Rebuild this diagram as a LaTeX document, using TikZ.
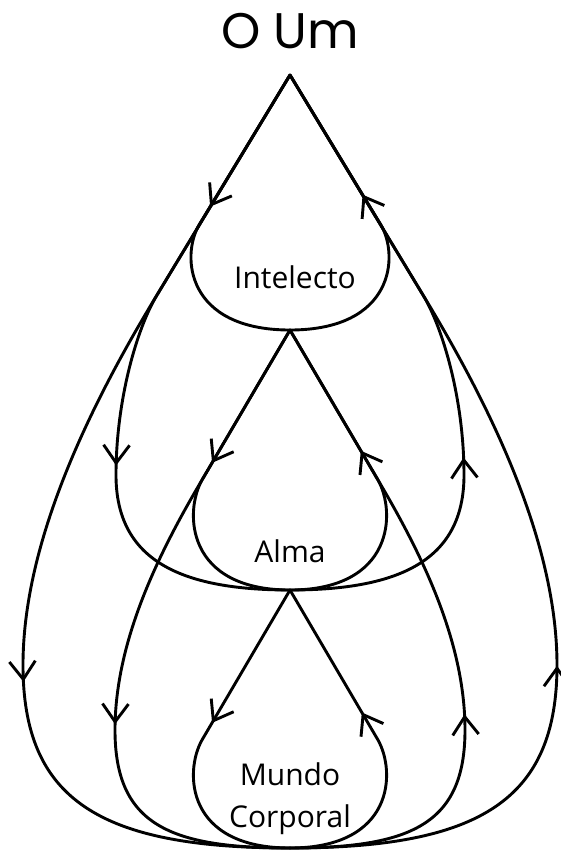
\documentclass[tikz,border=0pt]{standalone}
\usepackage{fontspec}
\setmainfont{Open Sans}
\newfontfamily\titlefont{Poppins}
\usetikzlibrary{arrows.meta,decorations.markings}

\tikzset{
  flow/.style={line width=1.45pt, line cap=round, line join=round},
  down at/.style={postaction={decorate, decoration={markings,
      mark=at position #1 with {\arrow{Straight Barb[length=9pt,width=13pt]}}}}},
  up at/.style={postaction={decorate, decoration={markings,
      mark=at position #1 with {\arrowreversed{Straight Barb[length=9pt,width=13pt]}}}}},
  label/.style={font=\fontsize{15}{18}\selectfont, anchor=base},
}

\begin{document}
\begin{tikzpicture}[x=0.5pt, y=-0.5pt]
  \useasboundingbox (0,0) rectangle (561,853);

  \coordinate (top) at (290,75);
  \coordinate (int) at (290,330);
  \coordinate (alm) at (290,590);
  \coordinate (mun) at (290,848);

  \node[font=\titlefont\fontsize{25}{30}\selectfont, anchor=base] (title) at (290,48) {O Um};

  % left side, going down
  \draw[flow, down at=77pt] (top) -- (199,225) .. controls (181,256) and (186,330) .. (int);
  \draw[flow, down at=217pt] (top) -- (157,295) .. controls (137,328) and (116,400) .. (116,475)
    .. controls (116,560) and (180,590) .. (alm);
  \draw[flow, down at=336pt] (top) -- (157,295) .. controls (92,402) and (23,540) .. (23,665)
    .. controls (23,800) and (100,848) .. (mun);
  \draw[flow, down at=77pt] (int) -- (202,480) .. controls (184,512) and (186,590) .. (alm);
  \draw[flow, down at=218pt] (int) -- (202,480) .. controls (160,551) and (115,640) .. (115,730)
    .. controls (115,825) and (170,848) .. (mun);
  \draw[flow, down at=77pt] (alm) -- (202,740) .. controls (184,772) and (186,848) .. (mun);

  % right side, going up
  \draw[flow, up at=70pt] (top) -- (381,225) .. controls (399,256) and (394,330) .. (int);
  \draw[flow, up at=213pt] (top) -- (423,295) .. controls (443,328) and (464,400) .. (464,475)
    .. controls (464,560) and (400,590) .. (alm);
  \draw[flow, up at=328pt] (top) -- (423,295) .. controls (488,402) and (557,540) .. (557,665)
    .. controls (557,800) and (480,848) .. (mun);
  \draw[flow, up at=70pt] (int) -- (378,480) .. controls (396,512) and (394,590) .. (alm);
  \draw[flow, up at=213pt] (int) -- (378,480) .. controls (420,551) and (465,640) .. (465,730)
    .. controls (465,825) and (410,848) .. (mun);
  \draw[flow, up at=71pt] (alm) -- (378,740) .. controls (396,772) and (394,848) .. (mun);

  \node[label] (intelecto) at (295,288) {Intelecto};
  \node[label] (alma) at (290,562) {Alma};
  \node[label] (mundo) at (290,785) {Mundo};
  \node[label] (corporal) at (290,827) {Corporal};
\end{tikzpicture}
\end{document}
